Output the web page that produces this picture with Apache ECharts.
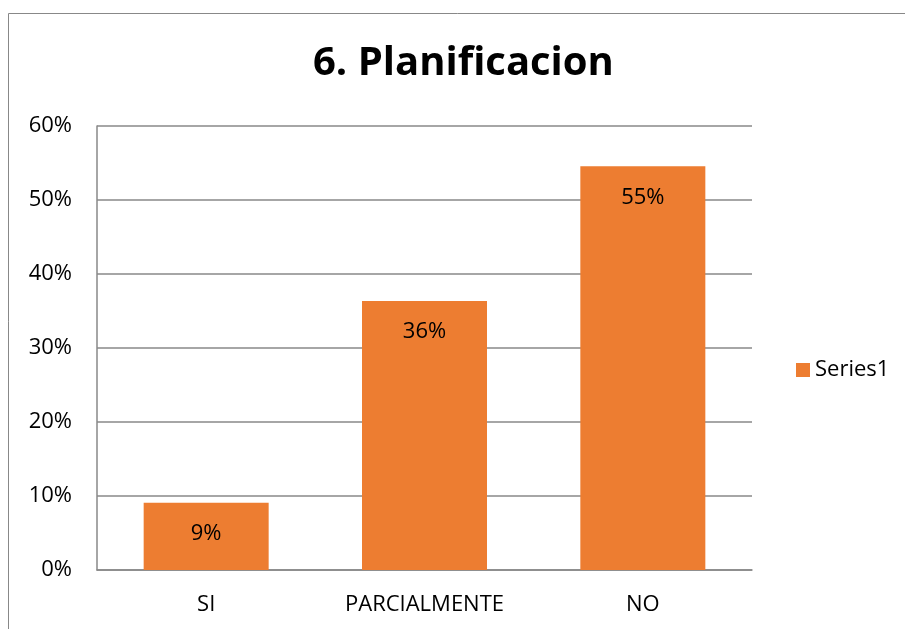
<!DOCTYPE html>
<html>
<head>
<meta charset="utf-8">
<script src="https://cdn.jsdelivr.net/npm/echarts@6/dist/echarts.min.js"></script>
<style>
  html, body { margin: 0; padding: 0; background: #fff; }
  #chart { width: 905px; height: 629px; }
</style>
</head>
<body>
<div id="chart"></div>
<script>
// datos
const categories = ['SI', 'PARCIALMENTE', 'NO'];
const values = [9.09, 36.36, 54.55];
const yTicks = [0, 10, 20, 30, 40, 50, 60];

const chart = echarts.init(document.getElementById('chart'));
const font = "'Open Sans', 'Liberation Sans', sans-serif";

chart.setOption({
    backgroundColor: '#ffffff',
    animation: false,
    title: {
        text: '6. Planificacion',
        left: 308,
        top: 39,
        textStyle: { fontFamily: font, fontSize: 40, fontWeight: 'bold', color: '#000' }
    },
    graphic: [{
        type: 'rect',
        shape: { x: 8.5, y: 13.5, width: 1000, height: 1000 },
        style: { fill: null, stroke: '#888888', lineWidth: 1 },
        silent: true
    }],
    legend: {
        data: ['Series1'],
        orient: 'vertical',
        left: 791,
        top: 354,
        itemWidth: 14,
        itemHeight: 14,
        itemGap: 5,
        icon: 'rect',
        textStyle: { fontFamily: font, fontSize: 22, color: '#000' }
    },
    grid: { left: 97, right: 153, top: 126, bottom: 59 },
    xAxis: {
        type: 'category',
        data: categories,
        axisLine: { lineStyle: { color: '#888888', width: 1.5 } },
        axisTick: { show: false },
        axisLabel: { fontFamily: font, fontSize: 22, color: '#000', margin: 24 }
    },
    yAxis: {
        type: 'value',
        min: yTicks[0],
        max: yTicks[yTicks.length - 1],
        interval: 10,
        axisLine: { show: true, lineStyle: { color: '#888888', width: 1.5 } },
        axisTick: { show: false },
        splitLine: { lineStyle: { color: '#888888', width: 1.5 } },
        axisLabel: { fontFamily: font, fontSize: 22, color: '#000', margin: 25, formatter: '{value}%' }
    },
    series: [{
        name: 'Series1',
        type: 'bar',
        data: values,
        barWidth: 125,
        itemStyle: { color: '#ED7D31' },
        label: {
            show: true,
            position: 'insideTop',
            distance: 20,
            fontFamily: font,
            fontSize: 22,
            color: '#000',
            formatter: p => Math.round(p.value) + '%'
        }
    }]
});
</script>
</body>
</html>
